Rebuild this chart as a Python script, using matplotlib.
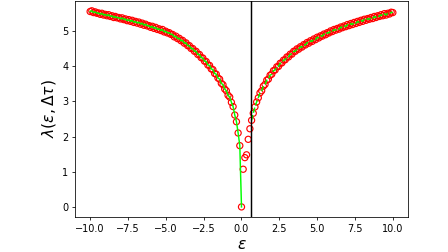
import numpy as np
import matplotlib
matplotlib.use("Agg")
import matplotlib.pyplot as plt

# epsilon grid, step 1/9 from -10 to 10
eps = np.linspace(-10, 10, 181)

# lambda values, left branch (eps <= 0)
lam_left = [
    5.55, 5.57, 5.52, 5.54, 5.50, 5.51, 5.47, 5.50, 5.45, 5.47,
    5.43, 5.46, 5.41, 5.43, 5.38, 5.41, 5.37, 5.38, 5.34,
    5.37, 5.32, 5.34, 5.29, 5.32, 5.27, 5.30, 5.24, 5.27,
    5.22, 5.25, 5.19, 5.22, 5.16, 5.19, 5.14, 5.15, 5.10,
    5.13, 5.07, 5.10, 5.04, 5.06, 5.01, 5.04, 4.97, 4.99,
    4.94, 4.95, 4.90, 4.90, 4.83, 4.85, 4.78, 4.79, 4.72,
    4.73, 4.65, 4.66, 4.58, 4.58, 4.50, 4.50, 4.42, 4.42,
    4.33, 4.33, 4.24, 4.23, 4.14, 4.13, 4.03, 4.02, 3.92,
    3.90, 3.79, 3.77, 3.66, 3.63, 3.51, 3.47, 3.35, 3.30,
    3.17, 3.12, 2.97, 2.85, 2.61, 2.42, 2.10, 1.74,
    0.0,
]

# lambda values, right branch (eps > 0)
lam_right = [
    1.07, 1.40, 1.48, 1.92, 2.22, 2.46, 2.66, 2.84, 2.98,
    3.10, 3.24, 3.30, 3.43, 3.48, 3.60, 3.63, 3.74, 3.77,
    3.87, 3.89, 3.98, 3.99, 4.08, 4.09, 4.17, 4.18, 4.26,
    4.26, 4.34, 4.34, 4.42, 4.42, 4.49, 4.48, 4.55, 4.54,
    4.61, 4.60, 4.67, 4.65, 4.72, 4.70, 4.77, 4.75, 4.82,
    4.80, 4.86, 4.85, 4.91, 4.89, 4.95, 4.94, 5.00, 4.98,
    5.04, 5.02, 5.07, 5.05, 5.11, 5.09, 5.14, 5.12, 5.18,
    5.15, 5.21, 5.18, 5.24, 5.21, 5.27, 5.24, 5.30, 5.27,
    5.33, 5.30, 5.35, 5.33, 5.38, 5.35, 5.41, 5.38, 5.43,
    5.41, 5.46, 5.43, 5.49, 5.45, 5.50, 5.48, 5.53, 5.52,
]

eps_c = 0.64

eps_left = eps[:len(lam_left)]
eps_right = eps[len(lam_left):]
lam = lam_left + lam_right

fig = plt.figure(figsize=(6.4, 3.6), dpi=70)
ax = fig.add_axes([0.1674, 0.140, 0.7433, 0.856])

ax.scatter(eps, lam, s=40, facecolors="none", edgecolors="red", linewidths=1.2)
ax.plot(eps_left, lam_left, color="lime")
fit = eps_right >= 0.6
ax.plot(eps_right[fit], np.array(lam_right)[fit], "--", color="lime")
ax.axvline(eps_c, color="k")

ax.set_xlabel(r"$\varepsilon$", fontsize=16)
ax.set_ylabel(r"$\lambda(\varepsilon, \Delta\tau)$", fontsize=16)

fig.savefig("out.png", dpi=70)
